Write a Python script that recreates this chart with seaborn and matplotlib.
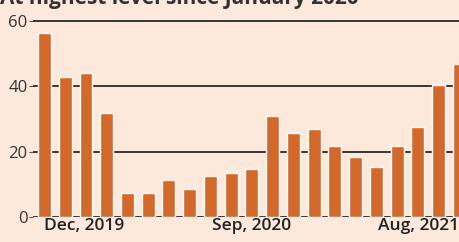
import matplotlib
matplotlib.use("Agg")
import matplotlib.pyplot as plt
import seaborn as sns
import numpy as np

# monthly values, Dec 2019 .. Aug 2021
months = ['Dec, 2019', 'Jan, 2020', 'Feb, 2020', 'Mar, 2020', 'Apr, 2020', 'May, 2020',
          'Jun, 2020', 'Jul, 2020', 'Aug, 2020', 'Sep, 2020', 'Oct, 2020', 'Nov, 2020',
          'Dec, 2020', 'Jan, 2021', 'Feb, 2021', 'Mar, 2021', 'Apr, 2021', 'May, 2021',
          'Jun, 2021', 'Jul, 2021', 'Aug, 2021']
values = [56.2, 42.9, 44.1, 31.8, 7.5, 7.5, 11.3, 8.5, 12.5, 13.5, 14.6,
          30.8, 25.6, 26.9, 21.8, 18.5, 15.2, 21.8, 27.4, 40.4, 46.9]
yticks = [0, 20, 40, 60]
xlabel_idx = [0, 10, 20]
xlabel_txt = ['Dec, 2019', 'Sep, 2020', 'Aug, 2021']
title = 'At highest level since January 2020'

bg = '#fde8dc'
bar_color = '#d2682a'

sns.set_style('white')
plt.rcParams['font.family'] = ['Open Sans', 'DejaVu Sans']

fig = plt.figure(figsize=(4.59, 2.42), dpi=100, facecolor=bg)
ax = fig.add_axes([0.072, 0.103, 0.94, 0.815])
ax.set_facecolor(bg)

sns.barplot(x=np.arange(len(values)), y=values, color=bar_color, width=0.62,
            saturation=1, ax=ax, zorder=3)

ax.set_xlim(-0.55, 20.25)
ax.set_ylim(0, 60.3)
ax.set_yticks(yticks)
ax.set_yticklabels([str(t) for t in yticks], fontsize=12, color='#333333')
for t in yticks:
    ax.axhline(t, color='#2a2a2a', lw=1.3, zorder=1)

ax.set_xticks(xlabel_idx)
ax.set_xticklabels(xlabel_txt, fontsize=12.5, color='#222222', fontweight='semibold')
for lab, ha in zip(ax.get_xticklabels(), ['left', 'center', 'right']):
    lab.set_ha(ha)
ax.tick_params(axis='x', length=0, pad=1)
ax.tick_params(axis='y', length=3, width=0.8, color='#555555', pad=1, left=True)
ax.set_xlabel('')
ax.set_ylabel('')
sns.despine(ax=ax, left=True, bottom=True, top=True, right=True)

# heading sits mostly above the crop, as in the source
fig.text(0.0, 1.005, title, fontsize=15, fontweight='bold', color='#333333',
         ha='left', va='center')

fig.savefig('out.png', dpi=100, facecolor=bg)
